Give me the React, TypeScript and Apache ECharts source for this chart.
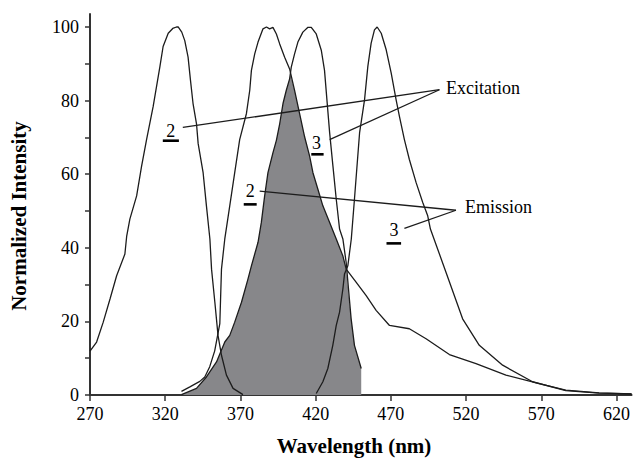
import React, { useEffect, useRef } from "react";
import * as echarts from "echarts";

// Tick labels
const xTickValues = [270, 320, 370, 420, 470, 520, 570, 620];
const yLabelValues = [0, 20, 40, 60, 80, 100];
const yTickValues = [0, 10, 20, 30, 40, 50, 60, 70, 80, 90, 100];

// Spectra [wavelength nm, normalized intensity]
const excitation2: [number, number][] = [
  [270, 11.9], [274.4, 14.4], [278.8, 19.8], [283.3, 26.1], [287.7, 32.4], [293.2, 38.3],
  [294.4, 43.2], [296.5, 47.8], [301.0, 54.1], [304.3, 62.2], [307.6, 69.4], [312.0, 78.4],
  [316.5, 89.3], [318.6, 94.7], [322.0, 98.3], [325.0, 99.6], [327.5, 100], [328.6, 100],
  [331.0, 98.6], [333.0, 96.3], [335.2, 91.8], [336.8, 85.5], [338.5, 79.2], [340.8, 73.7],
  [341.9, 68.3], [345.2, 60.4], [347.4, 51.4], [349.7, 42.4], [350.8, 34.2], [353.0, 25.2],
  [355.1, 16.2], [357.4, 10.8], [360.7, 5.4], [365.1, 1.8], [371.7, 0.1],
];

const emission2: [number, number][] = [
  [330.8, 1.0], [336.4, 2.2], [343.0, 3.7], [346.3, 4.9], [349.6, 7.7], [352.9, 12.0],
  [356.3, 19.4], [357.4, 34.2], [359.6, 42.4], [362.9, 51.4], [366.2, 60.4], [369.5, 69.4],
  [374.0, 76.5], [376.2, 82.8], [377.3, 88.2], [379.5, 92.7], [381.7, 95.9], [385.0, 99.5],
  [387.3, 100], [389.4, 99.5], [391.6, 99.9], [393.9, 98.1], [396.1, 95.4], [399.4, 91.8],
  [402.7, 88.6], [406.0, 82.8], [409.3, 76.5], [412.7, 70.1], [416.0, 64.9], [418.2, 60.4],
  [421.5, 55.9], [424.8, 51.4], [429.3, 46.9], [433.7, 42.4], [438.1, 37.8], [440.3, 34.2],
  [447.0, 30.6], [453.6, 27.0], [460.2, 23.0], [469.1, 18.9], [482.3, 18.0], [493.4, 15.3],
  [508.9, 11.0], [526.6, 8.5], [546.5, 5.4], [568.6, 3.1], [586.3, 1.3], [608.4, 0.6],
  [630, 0.3],
];

const excitation3: [number, number][] = [
  [330.8, 0.1], [340.8, 1.8], [347.4, 4.9], [354.1, 9.0], [359.6, 14.4], [362.9, 16.2],
  [366.2, 19.8], [370.7, 25.2], [375.0, 31.5], [377.3, 35.1], [381.7, 41.5], [383.9, 46.9],
  [386.1, 54.1], [388.3, 60.4], [391.6, 65.8], [393.9, 69.2], [396.1, 73.7], [398.3, 79.2],
  [400.5, 82.8], [402.7, 85.9], [403.8, 89.1], [406.0, 92.7], [408.2, 95.9], [411.5, 98.6],
  [414.9, 99.9], [417.1, 99.9], [420.4, 98.1], [423.8, 93.6], [425.9, 88.2], [427.5, 80.2],
  [429.3, 71.3], [431.5, 62.2], [433.7, 53.2], [435.9, 45.1], [438.1, 42.4], [440.3, 36.0],
  [443.6, 20.7], [445.8, 13.5], [450.3, 7.2],
];

const emission3: [number, number][] = [
  [420.4, 0.4], [424.8, 3.6], [428.1, 7.2], [431.4, 13.5], [433.7, 18.9], [435.9, 22.5],
  [438.1, 28.8], [439.2, 32.9], [441.4, 35.1], [443.7, 42.4], [445.8, 53.2], [449.2, 71.2],
  [452.5, 80.2], [454.7, 89.3], [456.9, 95.6], [459.1, 99.2], [460.9, 100], [463.6, 98.3],
  [466.9, 93.8], [470.2, 87.5], [473.5, 80.2], [475.7, 75.7], [479.0, 69.4], [482.3, 64.0],
  [486.8, 57.7], [491.2, 52.3], [494.5, 48.7], [496.3, 45.1], [506.7, 33.3], [517.7, 20.7],
  [528.8, 13.5], [544.3, 8.1], [564.2, 3.6], [586.3, 1.2], [608.4, 0.5], [630, 0.3],
];

// Shaded spectral overlap (boundary)
const overlap: [number, number][] = [
  [330.8, 0.1], [340.8, 1.8], [347.4, 4.9], [354.1, 9.0], [359.6, 14.4], [362.9, 16.2],
  [366.2, 19.8], [370.7, 25.2], [375.0, 31.5], [377.3, 35.1], [381.7, 41.5], [383.9, 46.9],
  [386.1, 54.1], [388.3, 60.4], [391.6, 65.8], [393.9, 69.2], [396.1, 73.7], [398.3, 79.2],
  [400.5, 82.8], [402.7, 85.9], [403.2, 87.0], [406.0, 82.8], [409.3, 76.5], [412.7, 70.1],
  [416.0, 64.9], [418.2, 60.4], [421.5, 55.9], [424.8, 51.4], [429.3, 46.9], [433.7, 42.4],
  [438.1, 37.8], [440.3, 34.2], [443.6, 20.7], [445.8, 13.5], [450.3, 7.2], [450.3, 0],
];

// Annotations, in data coordinates
const groupTexts = [
  { text: "Excitation", at: [506.7, 83.5] },
  { text: "Emission", at: [519.3, 51.0] },
];
const curveLabels = [
  { text: "2", at: [323.7, 71.8] },
  { text: "3", at: [420.6, 68.5] },
  { text: "2", at: [376.5, 55.5] },
  { text: "3", at: [472.1, 44.8] },
];
const underlines = [
  [[318.4, 69.1], [329.1, 69.1]],
  [[417.1, 65.4], [425.3, 65.4]],
  [[372.2, 51.8], [380.8, 51.8]],
  [[467.1, 41.2], [476.8, 41.2]],
];
const leaderLines = [
  [[331.7, 72.7], [502.3, 82.95]],
  [[429.3, 69.4], [502.3, 82.95]],
  [[382.8, 55.4], [513.3, 50.2]],
  [[479.0, 45.3], [513.3, 50.2]],
];

const FONT = '"Liberation Serif", "Times New Roman", serif';
const LINE = "#1c1c1c";

export default function App() {
  const ref = useRef<HTMLDivElement>(null);
  useEffect(() => {
    if (!ref.current) return;
    const chart = echarts.init(ref.current, undefined, { renderer: "svg" });
    const curve = (name: string, data: [number, number][]) => ({
      name,
      type: "line",
      data,
      showSymbol: false,
      symbol: "none",
      smooth: false,
      z: 3,
      lineStyle: { color: LINE, width: 1.3 },
    });
    chart.setOption({
      animation: false,
      backgroundColor: "#ffffff",
      grid: { left: 90, right: 0.5, top: 14.1, bottom: 64.5 },
      xAxis: {
        type: "value",
        min: 270,
        max: 630,
        name: "Wavelength (nm)",
        nameLocation: "middle",
        nameGap: 40,
        nameTextStyle: {
          fontFamily: FONT, fontSize: 21, fontWeight: "bold", color: "#000",
          padding: [0, 13.5, 0, 0],
        },
        axisLine: { show: true, onZero: false, lineStyle: { color: "#333", width: 2 } },
        axisTick: { show: true, length: 6, customValues: xTickValues, lineStyle: { color: "#333", width: 1.5 } },
        axisLabel: { customValues: xTickValues, fontFamily: FONT, fontSize: 18, color: "#000", margin: 10 },
        splitLine: { show: false },
      },
      yAxis: {
        type: "value",
        min: 0,
        max: 103.5,
        name: "Normalized Intensity",
        nameLocation: "middle",
        nameGap: 61,
        nameTextStyle: {
          fontFamily: FONT, fontSize: 21, fontWeight: "bold", color: "#000",
          padding: [0, 23, 0, 0],
        },
        axisLine: { show: true, onZero: false, lineStyle: { color: "#333", width: 2 } },
        axisTick: { show: true, length: 5, customValues: yTickValues, lineStyle: { color: "#333", width: 1.5 } },
        axisLabel: { customValues: yLabelValues, fontFamily: FONT, fontSize: 18, color: "#000", margin: 11 },
        splitLine: { show: false },
      },
      series: [
        {
          name: "Overlap",
          type: "line",
          data: overlap,
          showSymbol: false,
          symbol: "none",
          z: 1,
          lineStyle: { width: 0 },
          areaStyle: { color: "#87878a", opacity: 1 },
        },
        curve("Excitation 2", excitation2),
        curve("Emission 2", emission2),
        curve("Excitation 3", excitation3),
        curve("Emission 3", emission3),
      ],
    });

    const px = (p: number[]) => chart.convertToPixel({ xAxisIndex: 0, yAxisIndex: 0 }, p) as number[];
    const elements: any[] = [];
    leaderLines.forEach(([a, b]) => {
      const p1 = px(a), p2 = px(b);
      elements.push({
        type: "line", z: 10,
        shape: { x1: p1[0], y1: p1[1], x2: p2[0], y2: p2[1] },
        style: { stroke: LINE, lineWidth: 1.3 },
      });
    });
    underlines.forEach(([a, b]) => {
      const p1 = px(a), p2 = px(b);
      elements.push({
        type: "line", z: 10,
        shape: { x1: p1[0], y1: p1[1], x2: p2[0], y2: p2[1] },
        style: { stroke: "#000", lineWidth: 2.6 },
      });
    });
    curveLabels.forEach((l) => {
      const p = px(l.at);
      elements.push({
        type: "text", z: 11, x: p[0], y: p[1],
        style: { text: l.text, fill: "#000", font: `18px ${FONT}`, align: "center", verticalAlign: "middle" },
      });
    });
    groupTexts.forEach((l) => {
      const p = px(l.at);
      elements.push({
        type: "text", z: 11, x: p[0], y: p[1],
        style: { text: l.text, fill: "#000", font: `18px ${FONT}`, align: "left", verticalAlign: "middle" },
      });
    });
    chart.setOption({ graphic: { elements } });

    return () => chart.dispose();
  }, []);
  return (
    <div
      ref={ref}
      style={{ position: "fixed", left: 0, top: 0, width: 633, height: 461, background: "#fff" }}
    />
  );
}
